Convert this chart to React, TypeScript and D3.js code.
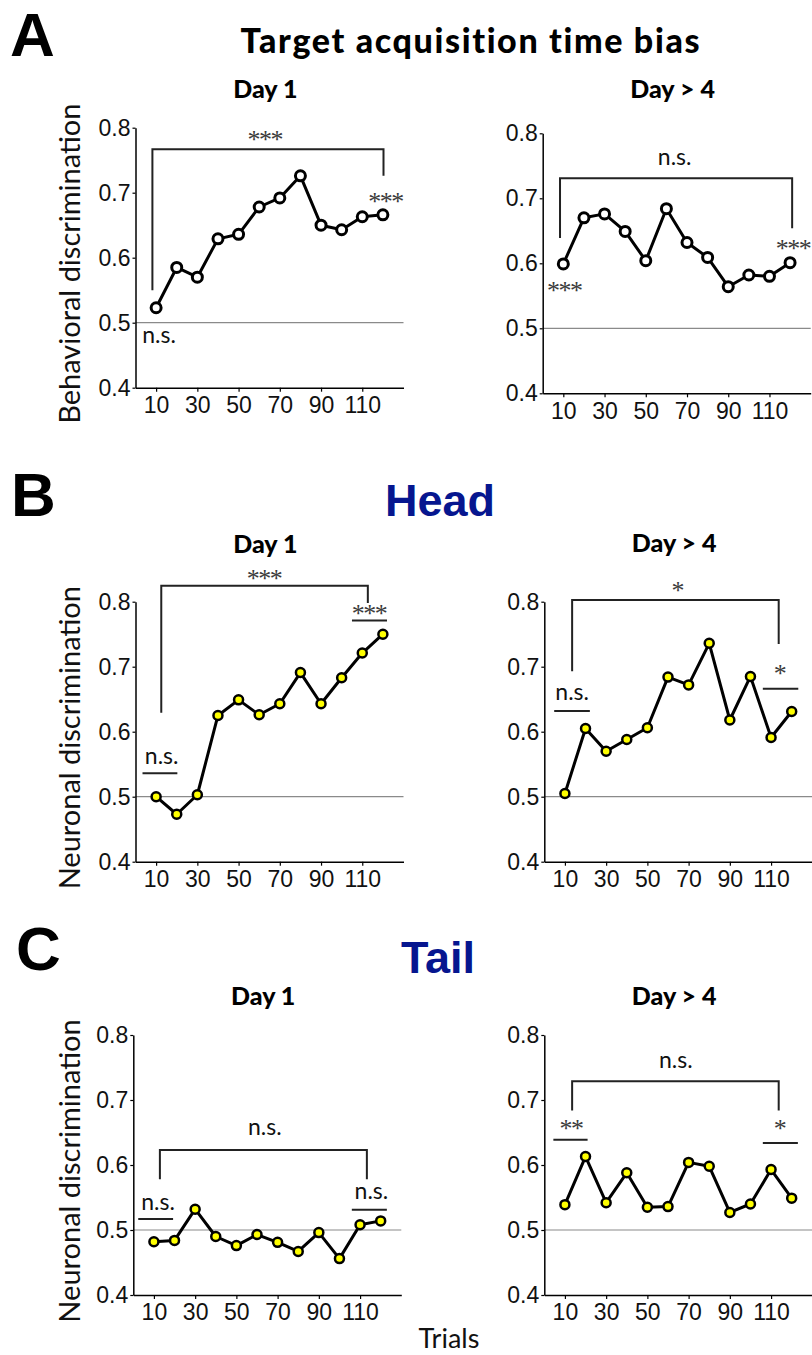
import { useEffect, useRef } from 'react';
import * as d3 from 'd3';

const trials = [10, 20, 30, 40, 50, 60, 70, 80, 90, 100, 110, 120];
const xTicks = [10, 30, 50, 70, 90, 110];
const yTicks = [0.4, 0.5, 0.6, 0.7, 0.8];

const behavDay1 = [0.523, 0.585, 0.570, 0.629, 0.636, 0.678, 0.692, 0.726, 0.650, 0.643, 0.663, 0.666];
const behavDay4 = [0.599, 0.670, 0.676, 0.649, 0.604, 0.684, 0.632, 0.609, 0.564, 0.582, 0.580, 0.601];
const headDay1 = [0.500, 0.473, 0.503, 0.625, 0.649, 0.626, 0.643, 0.691, 0.643, 0.683, 0.721, 0.750];
const headDay4 = [0.505, 0.605, 0.570, 0.588, 0.606, 0.684, 0.672, 0.736, 0.618, 0.685, 0.591, 0.631];
const tailDay1 = [0.482, 0.484, 0.532, 0.490, 0.476, 0.493, 0.481, 0.467, 0.496, 0.456, 0.508, 0.514];
const tailDay4 = [0.539, 0.613, 0.542, 0.588, 0.535, 0.536, 0.604, 0.598, 0.527, 0.540, 0.593, 0.549];

// significance marks, in data units (trial, discrimination)
// bracket: [x1, x2, top, leftBottom, rightBottom]
// bar: [x1, x2, y]
// note: [x, y, text]
const panels = [
  {
    left: 135.5, top: 127.7, values: behavDay1, fill: '#fff', title: 'Day 1', titleY: 98,
    yLabel: 'Behavioral discrimination',
    brackets: [[8.2, 120.3, 0.767, 0.55, 0.726]], bars: [],
    notes: [[63, 0.772, '***'], [121.6, 0.676, '***'], [11.4, 0.469, 'n.s.']],
  },
  {
    left: 542.7, top: 133.3, values: behavDay4, fill: '#fff', title: 'Day > 4', titleY: 98,
    brackets: [[8.4, 121, 0.731, 0.639, 0.654]], bars: [],
    notes: [[64, 0.751, 'n.s.'], [10.8, 0.548, '***'], [121.8, 0.613, '***']],
  },
  {
    left: 135.5, top: 601.7, values: headDay1, fill: '#ffff00', title: 'Day 1', titleY: 552.7,
    yLabel: 'Neuronal discrimination',
    brackets: [[12.5, 112.7, 0.8245, 0.629, 0.798]],
    bars: [[3.4, 20.3, 0.536], [105, 122, 0.771]],
    notes: [[62.7, 0.826, '***'], [12.7, 0.550, 'n.s.'], [113.6, 0.772, '***']],
  },
  {
    left: 544.3, top: 601.7, values: headDay4, fill: '#ffff00', title: 'Day > 4', titleY: 551.7,
    brackets: [[13.5, 113.7, 0.8026, 0.693, 0.735]],
    bars: [[4.8, 22.1, 0.632], [106, 123.2, 0.666]],
    notes: [[64.8, 0.807, '*'], [13.5, 0.649, 'n.s.'], [114.4, 0.680, '*']],
  },
  {
    left: 133.3, top: 1035, values: tailDay1, fill: '#ffff00', title: 'Day 1', titleY: 1005,
    yLabel: 'Neuronal discrimination',
    brackets: [[12.9, 113.3, 0.623, 0.578, 0.578]],
    bars: [[2.4, 19.3, 0.517], [106, 123, 0.531]],
    notes: [[63.8, 0.646, 'n.s.'], [12, 0.531, 'n.s.'], [115.5, 0.547, 'n.s.']],
  },
  {
    left: 544.3, top: 1035, values: tailDay4, fill: '#ffff00', title: 'Day > 4', titleY: 1005,
    brackets: [[13.5, 113.7, 0.729, 0.684, 0.684]],
    bars: [[4.4, 21, 0.639], [106, 123, 0.634]],
    notes: [[63.8, 0.749, 'n.s.'], [13.3, 0.646, '**'], [114.4, 0.646, '*']],
  },
];

const humanist = 'Lato, "Open Sans", sans-serif';
const arial = '"Liberation Sans", Arial, sans-serif';

function drawPanel(svg, p) {
  const width = 268;
  const height = 260;
  const x = d3.scaleLinear().domain([0, 130]).range([p.left, p.left + width]);
  const y = d3.scaleLinear().domain([0.4, 0.8]).range([p.top + height, p.top]);
  const g = svg.append('g');

  // chance level
  g.append('line')
    .attr('x1', x(0)).attr('x2', x(130))
    .attr('y1', y(0.5)).attr('y2', y(0.5))
    .attr('stroke', '#8a8a8a').attr('stroke-width', 1.2);

  const xAxis = g.append('g')
    .attr('transform', `translate(0,${p.top + height})`)
    .call(d3.axisBottom(x).tickValues(xTicks).tickSize(4).tickSizeOuter(0).tickPadding(5));
  const yAxis = g.append('g')
    .attr('transform', `translate(${p.left},0)`)
    .call(d3.axisLeft(y).tickValues(yTicks).tickFormat(d3.format('.1f')).tickSize(3).tickSizeOuter(0).tickPadding(2));
  [xAxis, yAxis].forEach(a => {
    a.select('.domain').attr('stroke', '#000').attr('stroke-width', 1.5);
    a.selectAll('.tick line').attr('stroke', '#000').attr('stroke-width', 1.2);
    a.selectAll('text').attr('font-family', arial).attr('font-size', 23).attr('fill', '#111');
  });

  // brackets and bars
  p.brackets.forEach(([x1, x2, top, b1, b2]) => {
    g.append('path')
      .attr('d', `M${x(x1)},${y(b1)}V${y(top)}H${x(x2)}V${y(b2)}`)
      .attr('fill', 'none').attr('stroke', '#222').attr('stroke-width', 2);
  });
  p.bars.forEach(([x1, x2, yy]) => {
    g.append('line')
      .attr('x1', x(x1)).attr('x2', x(x2)).attr('y1', y(yy)).attr('y2', y(yy))
      .attr('stroke', '#222').attr('stroke-width', 2);
  });
  p.notes.forEach(([nx, ny, t]) => {
    const star = t.startsWith('*');
    const txt = g.append('text')
      .attr('x', x(nx)).attr('y', y(ny) + (star ? 2 : 0))
      .attr('text-anchor', 'middle')
      .attr('font-family', star ? '"Liberation Serif", serif' : humanist)
      .attr('font-size', star ? 26 : 23)
      .attr('fill', star ? '#3a3a3a' : '#111')
      .text(t);
    if (star) txt.attr('letter-spacing', -1.5).attr('dx', -0.75);
  });

  const line = d3.line().x((d, i) => x(trials[i])).y(d => y(d));
  g.append('path')
    .datum(p.values)
    .attr('d', line)
    .attr('fill', 'none').attr('stroke', '#000').attr('stroke-width', 3)
    .attr('stroke-linejoin', 'round');
  g.selectAll('.pt')
    .data(p.values)
    .join('circle')
    .attr('cx', (d, i) => x(trials[i]))
    .attr('cy', d => y(d))
    .attr('r', p.fill === '#fff' ? 5 : 4.5)
    .attr('fill', p.fill)
    .attr('stroke', '#000')
    .attr('stroke-width', p.fill === '#fff' ? 3 : 2.5);

  g.append('text')
    .attr('x', x(63)).attr('y', p.titleY)
    .attr('text-anchor', 'middle')
    .attr('font-family', humanist).attr('font-weight', 900).attr('font-size', 25)
    .text(p.title);

  if (p.yLabel) {
    g.append('text')
      .attr('transform', `translate(80,${p.top + 136}) rotate(-90)`)
      .attr('text-anchor', 'middle')
      .attr('font-family', humanist).attr('font-size', 29).attr('fill', '#111')
      .text(p.yLabel);
  }
}

export default function App() {
  const svgRef = useRef(null);

  useEffect(() => {
    const svg = d3.select(svgRef.current);
    svg.selectAll('*').remove();
    svg.append('rect').attr('width', 812).attr('height', 1355).attr('fill', '#fff');

    const letters = [['A', 10, 56], ['B', 11, 516], ['C', 16, 970]];
    letters.forEach(([t, lx, ly]) => {
      svg.append('text').attr('x', lx).attr('y', ly)
        .attr('font-family', arial).attr('font-weight', 'bold').attr('font-size', 62)
        .text(t);
    });
    svg.append('text').attr('x', 470).attr('y', 53).attr('text-anchor', 'middle')
      .attr('font-family', humanist).attr('font-weight', 900).attr('font-size', 34)
      .attr('textLength', 459).attr('lengthAdjust', 'spacing')
      .style('font-variant-ligatures', 'none')
      .text('Target acquisition time bias');
    svg.append('text').attr('x', 440).attr('y', 516).attr('text-anchor', 'middle')
      .attr('font-family', arial).attr('font-weight', 'bold').attr('font-size', 45)
      .attr('fill', '#06168f').text('Head');
    svg.append('text').attr('x', 438).attr('y', 973).attr('text-anchor', 'middle')
      .attr('font-family', arial).attr('font-weight', 'bold').attr('font-size', 45)
      .attr('fill', '#06168f').text('Tail');
    svg.append('text').attr('x', 449).attr('y', 1348).attr('text-anchor', 'middle')
      .attr('font-family', humanist).attr('font-size', 27).attr('fill', '#111')
      .text('Trials');

    panels.forEach(p => drawPanel(svg, p));
  }, []);

  return (
    <svg ref={svgRef} width={812} height={1355}
      style={{ position: 'absolute', left: 0, top: 0, display: 'block' }} />
  );
}
